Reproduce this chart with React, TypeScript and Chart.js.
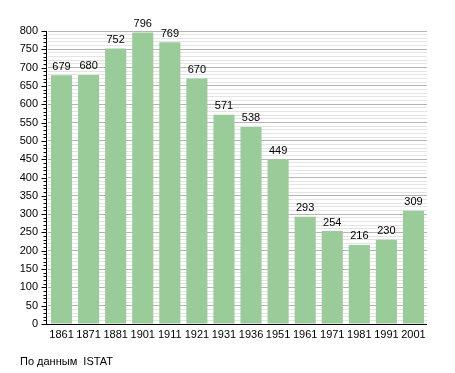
import React, { useEffect, useRef } from "react";
import { Chart, registerables } from "chart.js";

Chart.register(...registerables);

const years = ["1861", "1871", "1881", "1901", "1911", "1921", "1931", "1936", "1951", "1961", "1971", "1981", "1991", "2001"];
const population = [679, 680, 752, 796, 769, 670, 571, 538, 449, 293, 254, 216, 230, 309];
const yMax = 800;
const majorStep = 50;
const minorStep = 10;
const footerText = "По данным  ISTAT";

const FONT = "'Liberation Sans', Arial, sans-serif";

const valueLabels = {
  id: "valueLabels",
  afterDatasetsDraw(chart: any) {
    const ctx = chart.ctx;
    const meta = chart.getDatasetMeta(0);
    ctx.save();
    ctx.font = `11px ${FONT}`;
    ctx.fillStyle = "#000";
    ctx.textAlign = "center";
    ctx.textBaseline = "bottom";
    meta.data.forEach((bar: any, i: number) => {
      ctx.fillText(String(population[i]), bar.x, bar.y - 3);
    });
    ctx.restore();
  },
};

const axisTicks = {
  id: "axisTicks",
  afterDraw(chart: any) {
    const ctx = chart.ctx;
    const y = chart.scales.y;
    const area = chart.chartArea;
    const ax = Math.round(area.left) - 1.5;
    ctx.save();
    ctx.strokeStyle = "#000";
    ctx.lineWidth = 1;
    for (let v = 0; v <= yMax; v += minorStep) {
      const py = Math.round(y.getPixelForValue(v)) + 0.5;
      const len = v % majorStep === 0 ? 5 : 3;
      ctx.beginPath();
      ctx.moveTo(ax - len, py);
      ctx.lineTo(ax, py);
      ctx.stroke();
    }
    ctx.beginPath();
    ctx.moveTo(ax, area.top);
    ctx.lineTo(ax, area.bottom + 1);
    ctx.stroke();
    ctx.beginPath();
    ctx.moveTo(ax, Math.round(area.bottom) + 0.5);
    ctx.lineTo(area.right, Math.round(area.bottom) + 0.5);
    ctx.stroke();
    ctx.restore();
  },
};

export default function App() {
  const ref = useRef<HTMLCanvasElement>(null);
  useEffect(() => {
    if (!ref.current) return;
    const chart = new Chart(ref.current, {
      type: "bar",
      data: {
        labels: years,
        datasets: [
          {
            data: population,
            backgroundColor: "#99cc99",
            borderWidth: 0,
            categoryPercentage: 1,
            barPercentage: 0.78,
          },
        ],
      },
      options: {
        animation: false,
        responsive: false,
        devicePixelRatio: 1,
        layout: { padding: { top: 31, right: 28, left: 0, bottom: 0 } },
        plugins: { legend: { display: false }, tooltip: { enabled: false } },
        scales: {
          x: {
            grid: { display: false, drawTicks: false },
            border: { display: false },
            ticks: {
              color: "#000",
              font: { family: FONT, size: 11 },
              padding: 4,
              maxRotation: 0,
              autoSkip: false,
            },
            afterFit: (s: any) => {
              s.height = 49;
            },
          },
          y: {
            min: 0,
            max: yMax,
            border: { display: false },
            grid: {
              drawTicks: false,
              color: (c: any) => (c.tick && c.tick.value % majorStep === 0 ? "#b4b4b4" : "#e4e4e4"),
              lineWidth: 1,
            },
            ticks: {
              stepSize: minorStep,
              autoSkip: false,
              color: "#000",
              font: { family: FONT, size: 11 },
              padding: 10,
              callback: (v: any) => (Number(v) % majorStep === 0 ? String(v) : ""),
            },
            afterFit: (s: any) => {
              s.width = 48;
            },
          },
        },
      },
      plugins: [valueLabels, axisTicks],
    });
    return () => chart.destroy();
  }, []);
  return (
    <div style={{ position: "absolute", left: 0, top: 0, width: 455, height: 373, background: "#fff" }}>
      <canvas ref={ref} width={455} height={373} style={{ display: "block" }} />
      <div
        style={{
          position: "absolute",
          left: 20,
          top: 355,
          fontFamily: FONT,
          fontSize: 11,
          color: "#000",
          lineHeight: "13px",
          whiteSpace: "pre",
        }}
      >
        {footerText}
      </div>
    </div>
  );
}
